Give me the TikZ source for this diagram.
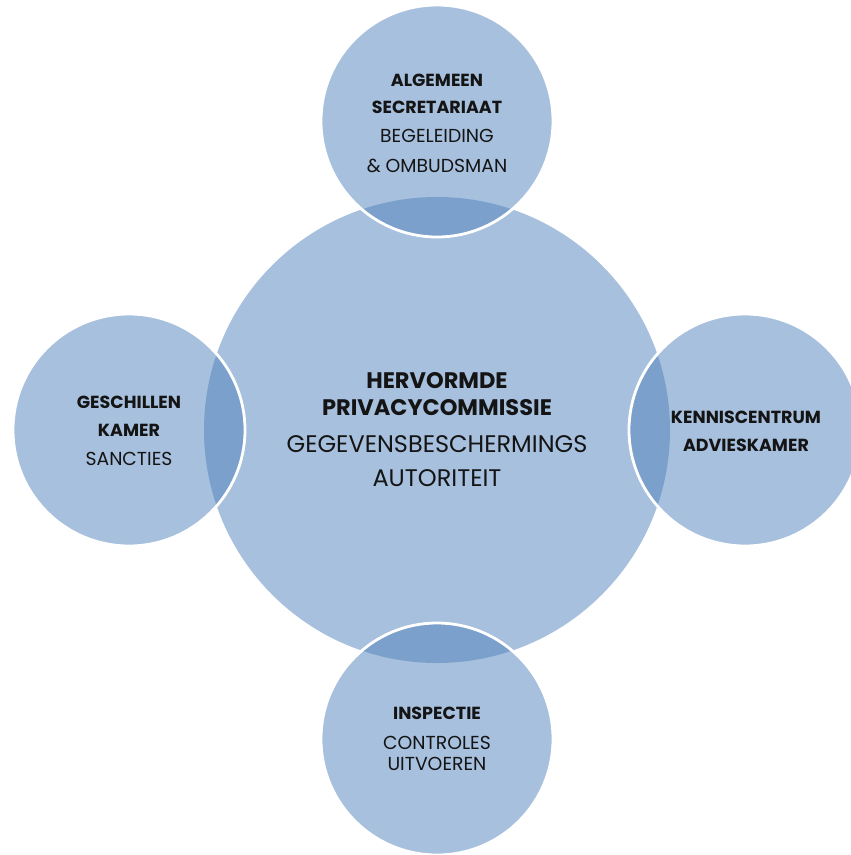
\documentclass[tikz,border=0pt]{standalone}
\usepackage{fontspec}
\setmainfont{Poppins}
\definecolor{lite}{RGB}{167,192,222}
\definecolor{dark}{RGB}{123,160,204}
\definecolor{ink}{RGB}{20,20,20}
\tikzset{
  bigc/.style={circle, fill=lite, inner sep=0pt, minimum size=466pt},
  smallc/.style={circle, fill=lite, inner sep=0pt, minimum size=232pt},
  rim/.style={draw=white, line width=2.8pt},
  txt/.style={text=ink, align=center, inner sep=0pt},
  hb/.style={font=\fontsize{17.5}{27}\selectfont\bfseries},
  hr/.style={font=\fontsize{18.8}{27}\selectfont},
}
\begin{document}
\begin{tikzpicture}[x=1pt,y=-1pt]
\useasboundingbox (0,0) rectangle (851,855);
% main circle
\node[bigc] (main) at (437,430) {};
% satellites
\node[smallc] (top) at (437,121) {};
\node[smallc] (left) at (129,430) {};
\node[smallc] (right) at (745,430) {};
\node[smallc] (bottom) at (437,739) {};
% overlaps
\foreach \c in {top,left,right,bottom}{
  \begin{scope}
    \clip (\c.center) circle (116);
    \fill[dark] (main.center) circle (233);
  \end{scope}
  \draw[rim] (\c.center) circle (116);
}
% texts
\node[txt, font=\fontsize{22.5}{27}\selectfont\bfseries, anchor=base] (m1) at (437,388) {HERVORMDE};
\node[txt, font=\fontsize{22.5}{27}\selectfont\bfseries, anchor=base] (m2) at (437,415) {PRIVACYCOMMISSIE};
\node[txt, font=\fontsize{24}{27}\selectfont, anchor=base] (m3) at (437,452) {GEGEVENSBESCHERMINGS};
\node[txt, font=\fontsize{24}{27}\selectfont, anchor=base] (m4) at (437,486) {AUTORITEIT};

\node[txt, hb, anchor=base] (t1) at (437,86) {ALGEMEEN};
\node[txt, hb, anchor=base] (t2) at (437,113) {SECRETARIAAT};
\node[txt, hr, anchor=base] (t3) at (437,142) {BEGELEIDING};
\node[txt, hr, anchor=base] (t4) at (437,172) {\&\ OMBUDSMAN};

\node[txt, hb, anchor=base] (l1) at (129,408) {GESCHILLEN};
\node[txt, hb, anchor=base] (l2) at (129,436) {KAMER};
\node[txt, hr, anchor=base] (l3) at (129,465) {SANCTIES};

\node[txt, hb, anchor=base] (r1) at (746,423) {KENNISCENTRUM};
\node[txt, hb, anchor=base] (r2) at (746,451) {ADVIESKAMER};

\node[txt, hb, anchor=base] (b1) at (437,719) {INSPECTIE};
\node[txt, hr, anchor=base] (b2) at (437,749) {CONTROLES};
\node[txt, hr, anchor=base] (b3) at (437,770) {UITVOEREN};
\end{tikzpicture}
\end{document}
